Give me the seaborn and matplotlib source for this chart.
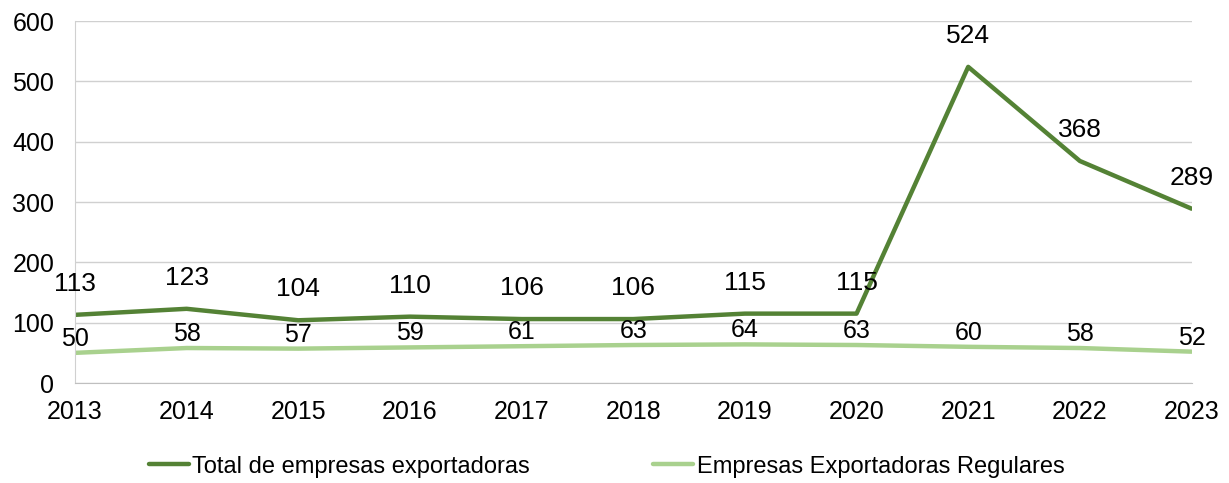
import matplotlib
matplotlib.use("Agg")
import matplotlib.pyplot as plt
import seaborn as sns
import pandas as pd

years = [2013, 2014, 2015, 2016, 2017, 2018, 2019, 2020, 2021, 2022, 2023]
total = [113, 123, 104, 110, 106, 106, 115, 115, 524, 368, 289]
regulares = [50, 58, 57, 59, 61, 63, 64, 63, 60, 58, 52]
series_names = ["Total de empresas exportadoras", "Empresas Exportadoras Regulares"]
colors = ["#548235", "#A9D18E"]

df = pd.DataFrame({"year": years * 2,
                   "value": total + regulares,
                   "serie": [series_names[0]] * len(years) + [series_names[1]] * len(years)})

sns.set_style("white")
plt.rcParams["font.family"] = ["Liberation Sans", "DejaVu Sans"]
plt.rcParams["text.color"] = "black"

fig = plt.figure(figsize=(12.29, 4.83), dpi=100)
ax = fig.add_axes([0.061, 0.207, 0.9085, 0.7495])

sns.lineplot(data=df, x="year", y="value", hue="serie", palette=colors,
             linewidth=3.2, ax=ax, legend=True)

# etiquetas de datos
for x, y in zip(years, total):
    ax.annotate(str(y), (x, y), xytext=(0, 31), textcoords="offset pixels",
                ha="center", va="center", fontsize=19, color="black")
for x, y in zip(years, regulares):
    ax.annotate(str(y), (x, y), xytext=(0, 14), textcoords="offset pixels",
                ha="center", va="center", fontsize=18, color="black")

ax.set_xlim(2013, 2023)
ax.set_ylim(0, 600)
ax.set_xticks(years)
ax.set_yticks(range(0, 601, 100))
ax.tick_params(axis="both", labelsize=18, labelcolor="black")
ax.tick_params(axis="x", length=6, width=1, color="#BFBFBF", direction="out", pad=6)
ax.tick_params(axis="y", length=6, width=1, color="#D0D0D0", pad=9)
ax.grid(axis="y", color="#D0D0D0", linewidth=1)
ax.set_xlabel("")
ax.set_ylabel("")
for s in ["top", "right"]:
    ax.spines[s].set_visible(False)
ax.spines["left"].set_color("#D0D0D0")
ax.spines["bottom"].set_color("#BFBFBF")

leg = ax.legend(loc="center", bbox_to_anchor=(0.476, -0.231), ncol=2, frameon=False,
                fontsize=17, handlelength=1.7, handletextpad=0.15, columnspacing=5.2)
for t in leg.get_texts():
    t.set_color("black")

fig.savefig("out.png", dpi=100)
